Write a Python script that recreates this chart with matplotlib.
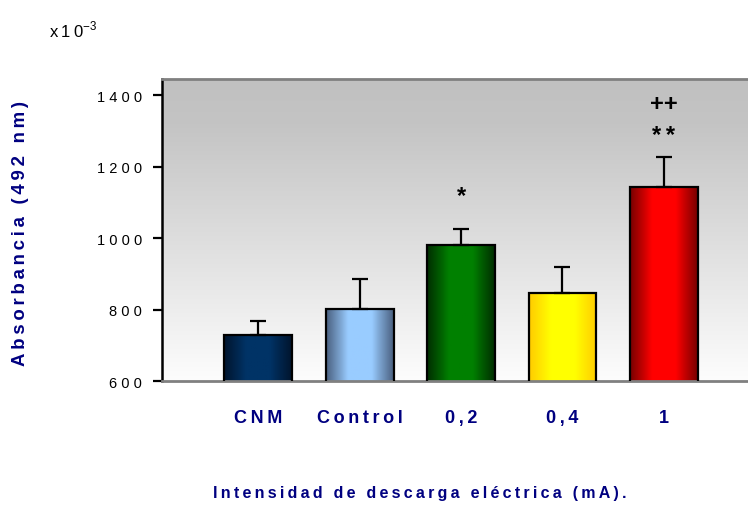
import numpy as np
import matplotlib
matplotlib.use("Agg")
import matplotlib.pyplot as plt
from matplotlib.colors import LinearSegmentedColormap

plt.rcParams["font.family"] = ["Liberation Sans", "DejaVu Sans"]

# Absorbance at 492 nm (x10^-3), mean and SEM per group
groups = ["CNM", "Control", "0,2", "0,4", "1"]
means = [730, 802, 981, 846, 1143]
errors = [39, 83, 44, 73, 84]
yticks = [600, 800, 1000, 1200, 1400]

# significance marks: (group index, y position, text)
sig_marks = [(2, 1118, "*"), (4, 1288, "*\u2009*"), (4, 1377, "++")]

# edge / centre colours for the shaded bars
bar_edges = ["#00152e", "#4a6080", "#002e00", "#ffcc00", "#780000"]
bar_centres = ["#003366", "#99ccff", "#008000", "#ffff00", "#ff0000"]

navy = "#000080"
THIN = "\u2009"


def spaced(s, sep=THIN):
    return sep.join(s)


fig = plt.figure(figsize=(7.48, 5.06), dpi=100)
ax = fig.add_axes([0.2166, 0.245, 0.7834, 0.597])

ymin, ymax = 600, 1445
xmin, xmax = -0.95, 4.83
ax.set_xlim(xmin, xmax)
ax.set_ylim(ymin, ymax)

# vertical grey-to-white background
bg = np.linspace(0, 1, 256).reshape(-1, 1)
bg_cmap = LinearSegmentedColormap.from_list(
    "bg", [(0, "#fdfdfd"), (0.85, "#c4c4c4"), (1, "#c0c0c0")])
ax.imshow(bg, cmap=bg_cmap, extent=[xmin, xmax, ymin, ymax],
          origin="lower", aspect="auto", zorder=0)

x = np.arange(len(groups))
width = 0.67
bars = ax.bar(x, means, width=width, fill=False, edgecolor="black",
              linewidth=1.6, zorder=3)

# horizontal shading inside each bar: dark at the sides, light in the middle
shade = np.abs(np.linspace(-1, 1, 64)).reshape(1, -1)
for rect, c_edge, c_mid in zip(bars, bar_edges, bar_centres):
    cmap = LinearSegmentedColormap.from_list("b", [(0, c_mid), (0.35, c_mid), (1, c_edge)])
    x0 = rect.get_x()
    ax.imshow(shade, cmap=cmap, vmin=0, vmax=1,
              extent=[x0, x0 + rect.get_width(), ymin, rect.get_height()],
              aspect="auto", zorder=2)

ax.errorbar(x, means, yerr=[np.zeros(len(errors)), errors], fmt="none",
            ecolor="black", elinewidth=1.6, capsize=6, capthick=1.6, zorder=2.5)

for i, yv, s in sig_marks:
    ax.text(x[i], yv, s, ha="center", va="center", fontsize=17,
            fontweight="bold", color="black", zorder=4)

ax.set_yticks(yticks)
ax.set_yticklabels([spaced(str(v), " ") for v in yticks])
ax.tick_params(axis="y", direction="out", length=6.5, width=1.6, labelsize=10.5,
               pad=8, colors="black")
ax.set_xticks(x)
ax.set_xticklabels([spaced(g) for g in groups])
ax.tick_params(axis="x", length=0, pad=20, labelsize=13, labelcolor=navy)
for lbl in ax.get_xticklabels():
    lbl.set_fontweight("bold")

ax.spines["right"].set_visible(False)
ax.spines["left"].set_linewidth(1.8)
ax.spines["left"].set_color("black")
for side in ["bottom", "top"]:
    ax.spines[side].set_color("#808080")
    ax.spines[side].set_linewidth(2)

fig.text(0.027, 0.5385, spaced("Absorbancia (492 nm)"), rotation=90,
         ha="center", va="center", fontsize=13.4, fontweight="bold", color=navy)
fig.text(0.561, 0.024, spaced("Intensidad de descarga eléctrica (mA)."),
         ha="center", va="center", fontsize=11.5, fontweight="bold", color=navy)
fig.text(0.066, 0.94, spaced("x10") + r"$^{\mathregular{-3}}$", ha="left",
         va="center", fontsize=12, color="black")

fig.savefig("out.png", dpi=100)
